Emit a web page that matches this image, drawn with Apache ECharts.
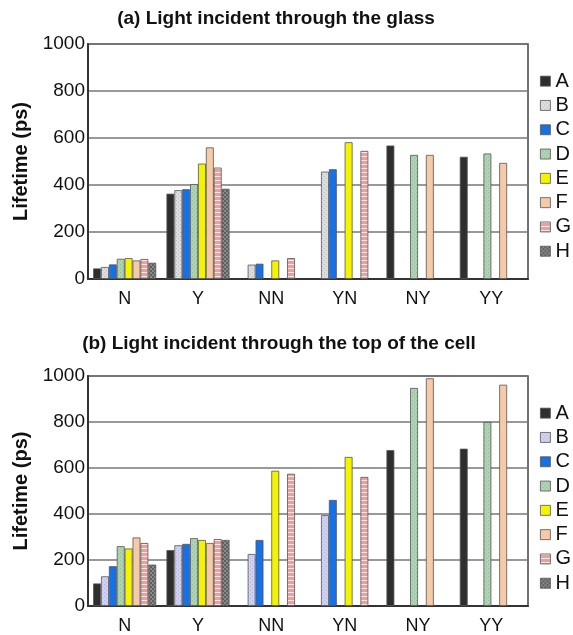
<!DOCTYPE html>
<html>
<head>
<meta charset="utf-8">
<script src="https://cdn.jsdelivr.net/npm/echarts@6/dist/echarts.min.js"></script>
<style>
  html, body { margin: 0; padding: 0; background: #fff; }
  #chart { width: 573px; height: 635px; }
</style>
</head>
<body>
<div id="chart"></div>
<script>
  // categories and series
  var categories = ['N', 'Y', 'NN', 'YN', 'NY', 'YY'];
  var seriesNames = ['A', 'B', 'C', 'D', 'E', 'F', 'G', 'H'];
  var yTicks = [0, 200, 400, 600, 800, 1000];

  // (a) light incident through the glass
  var glassA = [45, 363, null, null, 568, 520];
  var glassB = [51, 378, 61, 457, null, null];
  var glassC = [62, 382, 65, 467, null, null];
  var glassD = [86, 404, null, null, 528, 534];
  var glassE = [89, 491, 79, 582, null, null];
  var glassF = [79, 560, null, null, 528, 494];
  var glassG = [85, 474, 89, 545, null, null];
  var glassH = [69, 384, null, null, null, null];

  // (b) light incident through the top of the cell
  var topA = [98, 243, null, null, 678, 684];
  var topB = [129, 264, 226, 395, null, null];
  var topC = [173, 270, 287, 461, null, null];
  var topD = [260, 295, null, null, 948, 800];
  var topE = [250, 287, 588, 648, null, null];
  var topF = [298, 274, null, null, 990, 962];
  var topG = [274, 291, 575, 561, null, null];
  var topH = [180, 287, null, null, null, null];

  var glassData = [glassA, glassB, glassC, glassD, glassE, glassF, glassG, glassH];
  var topData = [topA, topB, topC, topD, topE, topF, topG, topH];

  // small fill patterns like the original hatching
  function pattern(bg, fg, kind) {
    var c = document.createElement('canvas');
    c.width = 4; c.height = 4;
    var ctx = c.getContext('2d');
    ctx.fillStyle = bg;
    ctx.fillRect(0, 0, 4, 4);
    ctx.fillStyle = fg;
    if (kind === 'stripes') {
      ctx.fillRect(0, 0, 4, 1);
    } else if (kind === 'check') {
      ctx.fillRect(0, 0, 2, 2);
      ctx.fillRect(2, 2, 2, 2);
    } else if (kind === 'dots') {
      ctx.fillRect(0, 0, 1, 1);
      ctx.fillRect(2, 2, 1, 1);
    }
    return { image: c, repeat: 'repeat' };
  }

  var glassColors = [
    '#2e2e2e',
    pattern('#dcdeda', '#b9bcc4', 'dots'),
    '#1670e6',
    pattern('#aed3b3', '#93bb99', 'dots'),
    '#f4f400',
    '#f6caa6',
    pattern('#f29c9c', '#fbe6e6', 'stripes'),
    pattern('#8a8a8a', '#5e5e5e', 'check')
  ];
  var topColors = glassColors.slice();
  topColors[1] = pattern('#d0d1f0', '#b3b4dc', 'dots');

  var series = [];
  function addSeries(dataList, colors, idx) {
    seriesNames.forEach(function (name, i) {
      series.push({
        name: name,
        type: 'bar',
        xAxisIndex: idx,
        yAxisIndex: idx,
        data: dataList[i],
        barGap: '0%',
        barCategoryGap: '14%',
        itemStyle: {
          color: colors[i],
          borderColor: '#555',
          borderWidth: 0.8
        }
      });
    });
  }
  addSeries(glassData, glassColors, 0);
  addSeries(topData, topColors, 1);

  function legendFor(colors, top) {
    return {
      orient: 'vertical',
      left: 540,
      top: top,
      padding: 0,
      itemWidth: 10,
      itemHeight: 10,
      itemGap: 4,
      itemTextGap: 3,
      icon: 'rect',
      selectedMode: false,
      textStyle: { fontSize: 20, color: '#111', lineHeight: 20.3, fontFamily: 'Liberation Sans' },
      data: seriesNames.map(function (n, i) {
        return { name: n, itemStyle: { color: colors[i], borderColor: '#555', borderWidth: 0.8 } };
      })
    };
  }

  function xAxisFor(idx) {
    return {
      type: 'category',
      gridIndex: idx,
      data: categories,
      axisLine: { lineStyle: { color: '#333', width: 2 } },
      axisTick: { show: false },
      axisLabel: { fontSize: 18, color: '#111', margin: 11, fontFamily: 'Liberation Sans' }
    };
  }

  function yAxisFor(idx) {
    return {
      type: 'value',
      gridIndex: idx,
      min: yTicks[0],
      max: yTicks[yTicks.length - 1],
      interval: 200,
      name: 'Lifetime (ps)',
      nameLocation: 'middle',
      nameRotate: 90,
      nameGap: 52,
      nameTextStyle: { fontSize: 20, fontWeight: 'bold', color: '#111', fontFamily: 'Liberation Sans' },
      axisLine: { show: true, lineStyle: { color: '#333', width: 2 } },
      axisTick: { show: false },
      axisLabel: {
        fontSize: 19, color: '#111', margin: 3, fontFamily: 'Liberation Sans',
        formatter: function (v) { return String(v); }
      },
      splitLine: { lineStyle: { color: '#777', width: 1.5 } }
    };
  }

  var option = {
    backgroundColor: '#fff',
    animation: false,
    title: [
      {
        text: '(a) Light incident through the glass',
        left: 276, top: 9, textAlign: 'center', padding: 0,
        textStyle: { fontSize: 19, fontWeight: 'bold', color: '#111', fontFamily: 'Liberation Sans' }
      },
      {
        text: '(b) Light incident through the top of the cell',
        left: 279, top: 334, textAlign: 'center', padding: 0,
        textStyle: { fontSize: 19, fontWeight: 'bold', color: '#111', fontFamily: 'Liberation Sans' }
      }
    ],
    legend: [legendFor(glassColors, 71), legendFor(topColors, 403)],
    grid: [
      { left: 88, top: 44, width: 440, height: 235, show: true, borderColor: '#444', borderWidth: 1.5 },
      { left: 88, top: 376, width: 440, height: 237, show: true, borderColor: '#444', borderWidth: 1.5 }
    ],
    xAxis: [xAxisFor(0), xAxisFor(1)],
    yAxis: [yAxisFor(0), yAxisFor(1)],
    series: series
  };

  var myChart = echarts.init(document.getElementById('chart'));
  myChart.setOption(option);
</script>
</body>
</html>
